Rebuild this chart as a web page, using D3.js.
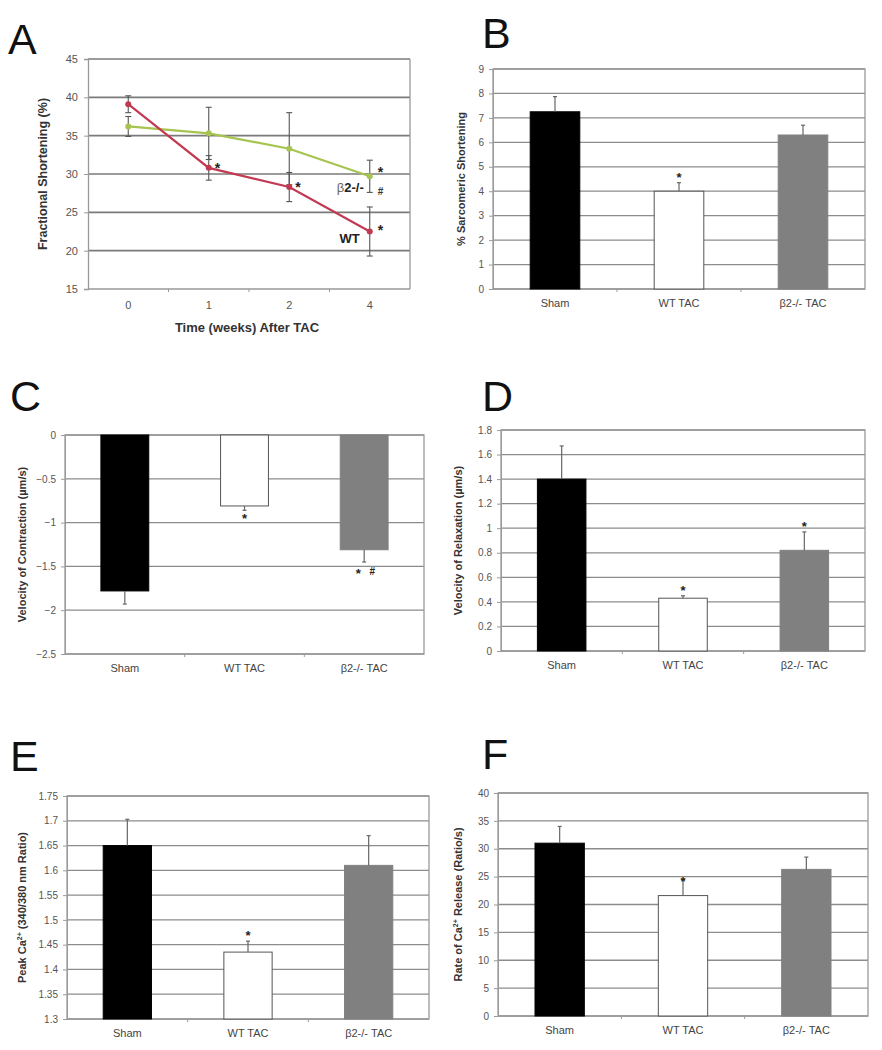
<!DOCTYPE html>
<html><head><meta charset="utf-8">
<script src="https://cdn.jsdelivr.net/npm/d3@7"></script>
<style>body{margin:0;background:#fff}svg{display:block;font-family:"Liberation Sans",Arial,sans-serif}</style>
</head><body><svg id="c" width="882" height="1050"></svg>
<script>
// ---------- DATA ----------
const weeks = ["0", "1", "2", "4"];
const fsWT = [39.1, 30.8, 28.3, 22.5];
const fsWTErr = [1.1, 1.6, 1.9, 3.2];
const fsKO = [36.2, 35.3, 33.3, 29.7];
const fsKOErr = [1.3, 3.4, 4.7, 2.1];
const fsTicks = [15, 20, 25, 30, 35, 40, 45];

const categories = ["Sham", "WT TAC", "\u03b22-/- TAC"];
const barColors = ["#000000", "#ffffff", "#808080"];

const sarcShort = [7.25, 4.0, 6.3];
const sarcShortErr = [0.62, 0.35, 0.4];
const sarcTicks = [0, 1, 2, 3, 4, 5, 6, 7, 8, 9];

const velContr = [-1.78, -0.81, -1.31];
const velContrErr = [0.15, 0.05, 0.14];
const contrTicks = [-2.5, -2, -1.5, -1, -0.5, 0];

const velRelax = [1.40, 0.43, 0.82];
const velRelaxErr = [0.27, 0.02, 0.15];
const relaxTicks = [0, 0.2, 0.4, 0.6, 0.8, 1, 1.2, 1.4, 1.6, 1.8];

const peakCa = [1.65, 1.435, 1.61];
const peakCaErr = [0.053, 0.022, 0.06];
const peakTicks = [1.3, 1.35, 1.4, 1.45, 1.5, 1.55, 1.6, 1.65, 1.7, 1.75];

const caRelease = [31.0, 21.6, 26.3];
const caReleaseErr = [3.0, 2.9, 2.2];
const releaseTicks = [0, 5, 10, 15, 20, 25, 30, 35, 40];

// ---------- DRAW ----------
const svg = d3.select("#c");
const gridCol = "#8c8c8c", borderCol = "#9a9a9a", tickTxt = "#555";

function letter(t, x, y) {
  svg.append("text").attr("x", x).attr("y", y).attr("font-size", 43)
    .attr("fill", "#111").text(t);
}

function barPanel(cfg) {
  const g = svg.append("g");
  const x = d3.scaleBand().domain(categories).range([cfg.left, cfg.right])
    .paddingInner(0.6).paddingOuter(0.3);
  const y = d3.scaleLinear().domain(cfg.domain).range([cfg.bottom, cfg.top]);
  g.selectAll("line.grid").data(cfg.ticks).join("line")
    .attr("x1", cfg.left).attr("x2", cfg.right)
    .attr("y1", d => y(d)).attr("y2", d => y(d))
    .attr("stroke", gridCol).attr("stroke-width", 1.3);
  g.append("rect").attr("x", cfg.left).attr("y", cfg.top)
    .attr("width", cfg.right - cfg.left).attr("height", cfg.bottom - cfg.top)
    .attr("fill", "none").attr("stroke", borderCol).attr("stroke-width", 1.3);
  const ya = d3.axisLeft(y).tickValues(cfg.ticks).tickSize(4).tickPadding(5)
    .tickFormat(d => d3.format("")(+d.toFixed(2)));
  const ag = g.append("g").attr("transform", `translate(${cfg.left},0)`).call(ya);
  ag.select(".domain").attr("stroke", borderCol);
  ag.selectAll(".tick line").attr("stroke", borderCol);
  ag.selectAll("text").attr("font-size", 10).attr("fill", tickTxt)
    .attr("font-family", "Liberation Sans, Arial, sans-serif");
  const step = x.step();
  g.selectAll("line.xt").data(d3.range(1, categories.length)).join("line")
    .attr("x1", d => cfg.left + d * step).attr("x2", d => cfg.left + d * step)
    .attr("y1", y(cfg.domain[0])).attr("y2", y(cfg.domain[0]) + 3)
    .attr("stroke", borderCol);
  const base = cfg.base;
  g.selectAll("rect.bar").data(cfg.values).join("rect")
    .attr("x", (d, i) => x(categories[i])).attr("width", x.bandwidth())
    .attr("y", d => Math.min(y(d), y(base)))
    .attr("height", d => Math.abs(y(d) - y(base)))
    .attr("fill", (d, i) => barColors[i])
    .attr("stroke", (d, i) => i === 1 ? "#555" : barColors[i]).attr("stroke-width", 1);
  cfg.values.forEach((v, i) => {
    const cx = x(categories[i]) + x.bandwidth() / 2;
    const sgn = v >= base ? 1 : -1;
    const e = v + sgn * cfg.errs[i];
    g.append("line").attr("x1", cx).attr("x2", cx).attr("y1", y(v)).attr("y2", y(e))
      .attr("stroke", "#666").attr("stroke-width", 1.2);
    g.append("line").attr("x1", cx - 2).attr("x2", cx + 2).attr("y1", y(e)).attr("y2", y(e))
      .attr("stroke", "#666").attr("stroke-width", 1.2);
  });
  (cfg.notes || []).forEach(n => {
    const cx = x(categories[n.i]) + x.bandwidth() / 2 + (n.dx || 0);
    g.append("text").attr("x", cx).attr("y", y(n.v)).attr("text-anchor", "middle")
      .attr("font-size", n.size || 13).attr("font-weight", "bold").attr("fill", "#222")
      .text(n.t);
  });
  g.selectAll("text.cat").data(categories).join("text")
    .attr("x", d => x(d) + x.bandwidth() / 2).attr("y", cfg.bottom + 18)
    .attr("text-anchor", "middle").attr("font-size", 11).attr("fill", "#444").text(d => d);
  const ty = (cfg.top + cfg.bottom) / 2;
  g.append("text").attr("transform", `translate(${cfg.titleX},${ty}) rotate(-90)`)
    .attr("text-anchor", "middle").attr("font-size", cfg.titleSize || 11)
    .attr("font-weight", "bold").attr("fill", "#333").html(cfg.title);
}

// ---------- Panel A ----------
(function () {
  const left = 88, right = 410, top = 59, bottom = 289;
  const g = svg.append("g");
  const x = d3.scaleBand().domain(weeks).range([left, right]);
  const y = d3.scaleLinear().domain([15, 45]).range([bottom, top]);
  const cx = w => x(w) + x.bandwidth() / 2;
  g.selectAll("line.grid").data(fsTicks.slice(1)).join("line")
    .attr("x1", left).attr("x2", right).attr("y1", d => y(d)).attr("y2", d => y(d))
    .attr("stroke", "#7a7a7a").attr("stroke-width", 1.6);
  g.append("line").attr("x1", right).attr("x2", right).attr("y1", top).attr("y2", bottom)
    .attr("stroke", "#999").attr("stroke-width", 1.3);
  g.append("line").attr("x1", left).attr("x2", right).attr("y1", bottom).attr("y2", bottom)
    .attr("stroke", "#999").attr("stroke-width", 1.3);
  const ya = d3.axisLeft(y).tickValues(fsTicks).tickSize(4).tickPadding(6);
  const ag = g.append("g").attr("transform", `translate(${left},0)`).call(ya);
  ag.select(".domain").attr("stroke", "#999").attr("stroke-width", 1.3);
  ag.selectAll(".tick line").attr("stroke", "#999");
  ag.selectAll("text").attr("font-size", 11).attr("fill", tickTxt)
    .attr("font-family", "Liberation Sans, Arial, sans-serif");
  g.selectAll("line.xt").data(d3.range(1, weeks.length)).join("line")
    .attr("x1", d => left + d * x.step()).attr("x2", d => left + d * x.step())
    .attr("y1", bottom).attr("y2", bottom + 3).attr("stroke", "#999");
  g.selectAll("text.wk").data(weeks).join("text")
    .attr("x", d => cx(d)).attr("y", bottom + 20).attr("text-anchor", "middle")
    .attr("font-size", 11).attr("fill", tickTxt).text(d => d);
  g.append("text").attr("x", (left + right) / 2 - 2).attr("y", bottom + 43)
    .attr("text-anchor", "middle").attr("font-size", 13).attr("font-weight", "bold")
    .attr("fill", "#333").text("Time (weeks) After TAC");
  g.append("text").attr("transform", `translate(47,${(top + bottom) / 2}) rotate(-90)`)
    .attr("text-anchor", "middle").attr("font-size", 12.5).attr("font-weight", "bold")
    .attr("fill", "#333").text("Fractional Shortening (%)");

  const series = [
    { v: fsKO, e: fsKOErr, c: "#a6c44f" },
    { v: fsWT, e: fsWTErr, c: "#c23a52" }
  ];
  series.forEach(s => {
    s.v.forEach((v, i) => {
      const px = cx(weeks[i]);
      g.append("line").attr("x1", px).attr("x2", px).attr("y1", y(v - s.e[i])).attr("y2", y(v + s.e[i]))
        .attr("stroke", "#555").attr("stroke-width", 1.1);
      [v - s.e[i], v + s.e[i]].forEach(t => g.append("line").attr("x1", px - 3).attr("x2", px + 3)
        .attr("y1", y(t)).attr("y2", y(t)).attr("stroke", "#555").attr("stroke-width", 1.1));
    });
  });
  series.forEach(s => {
    const line = d3.line().x((d, i) => cx(weeks[i])).y(d => y(d));
    g.append("path").datum(s.v).attr("d", line).attr("fill", "none")
      .attr("stroke", s.c).attr("stroke-width", 2.2);
    g.selectAll(null).data(s.v).join("circle").attr("cx", (d, i) => cx(weeks[i]))
      .attr("cy", d => y(d)).attr("r", 3).attr("fill", s.c);
  });
  const notes = [
    { w: "1", v: 31.2, dx: 6, t: "*" }, { w: "2", v: 28.7, dx: 6, t: "*" },
    { w: "4", v: 30.6, dx: 8, t: "*" }, { w: "4", v: 23.1, dx: 8, t: "*" }
  ];
  notes.forEach(n => g.append("text").attr("x", cx(n.w) + n.dx).attr("y", y(n.v) + 8)
    .attr("font-size", 14).attr("font-weight", "bold").attr("fill", "#222").text(n.t));
  g.append("text").attr("x", cx("4") + 8).attr("y", y(27.3)).attr("font-size", 10)
    .attr("font-weight", "bold").attr("fill", "#333").text("#");
  g.append("text").attr("x", cx("4") - 6).attr("y", y(27.6)).attr("text-anchor", "end")
    .attr("font-size", 13).attr("font-weight", "bold").attr("fill", "#222")
    .html('<tspan font-weight="normal" fill="#666">\u03b2</tspan>2-/-');
  g.append("text").attr("x", cx("4") - 10).attr("y", y(21)).attr("text-anchor", "end")
    .attr("font-size", 13).attr("font-weight", "bold").attr("fill", "#222").text("WT");
})();

letter("A", 8, 54);
letter("B", 482, 48);
letter("C", 10, 411);
letter("D", 482, 411);
letter("E", 10, 771);
letter("F", 482, 769);

barPanel({ left: 493, right: 865, top: 69, bottom: 289, domain: [0, 9], base: 0,
  ticks: sarcTicks, values: sarcShort, errs: sarcShortErr, titleX: 465,
  title: "% Sarcomeric Shortening",
  notes: [{ i: 1, v: 4.36, t: "*" }] });

barPanel({ left: 65, right: 424, top: 435, bottom: 654, domain: [-2.5, 0], base: 0,
  ticks: contrTicks, values: velContr, errs: velContrErr, titleX: 26,
  title: "Velocity of Contraction (\u00b5m/s)",
  notes: [{ i: 1, v: -1.0, t: "*" }, { i: 2, v: -1.63, dx: -6, t: "*" }, { i: 2, v: -1.6, dx: 8, t: "#", size: 10 }] });

barPanel({ left: 501, right: 865, top: 430, bottom: 651, domain: [0, 1.8], base: 0,
  ticks: relaxTicks, values: velRelax, errs: velRelaxErr, titleX: 462,
  title: "Velocity of Relaxation (\u00b5m/s)",
  notes: [{ i: 1, v: 0.46, t: "*" }, { i: 2, v: 0.975, t: "*" }] });

barPanel({ left: 67, right: 429, top: 796, bottom: 1019, domain: [1.3, 1.75], base: 1.3,
  ticks: peakTicks, values: peakCa, errs: peakCaErr, titleX: 26,
  title: 'Peak Ca<tspan dy="-4" font-size="7">2+</tspan><tspan dy="4"> (340/380 nm Ratio)</tspan>',
  notes: [{ i: 1, v: 1.46, t: "*" }] });

barPanel({ left: 498, right: 868, top: 793, bottom: 1016, domain: [0, 40], base: 0,
  ticks: releaseTicks, values: caRelease, errs: caReleaseErr, titleX: 462,
  title: 'Rate of Ca<tspan dy="-4" font-size="7">2+</tspan><tspan dy="4"> Release (Ratio/s)</tspan>',
  notes: [{ i: 1, v: 23.3, t: "*" }] });
</script></body></html>
